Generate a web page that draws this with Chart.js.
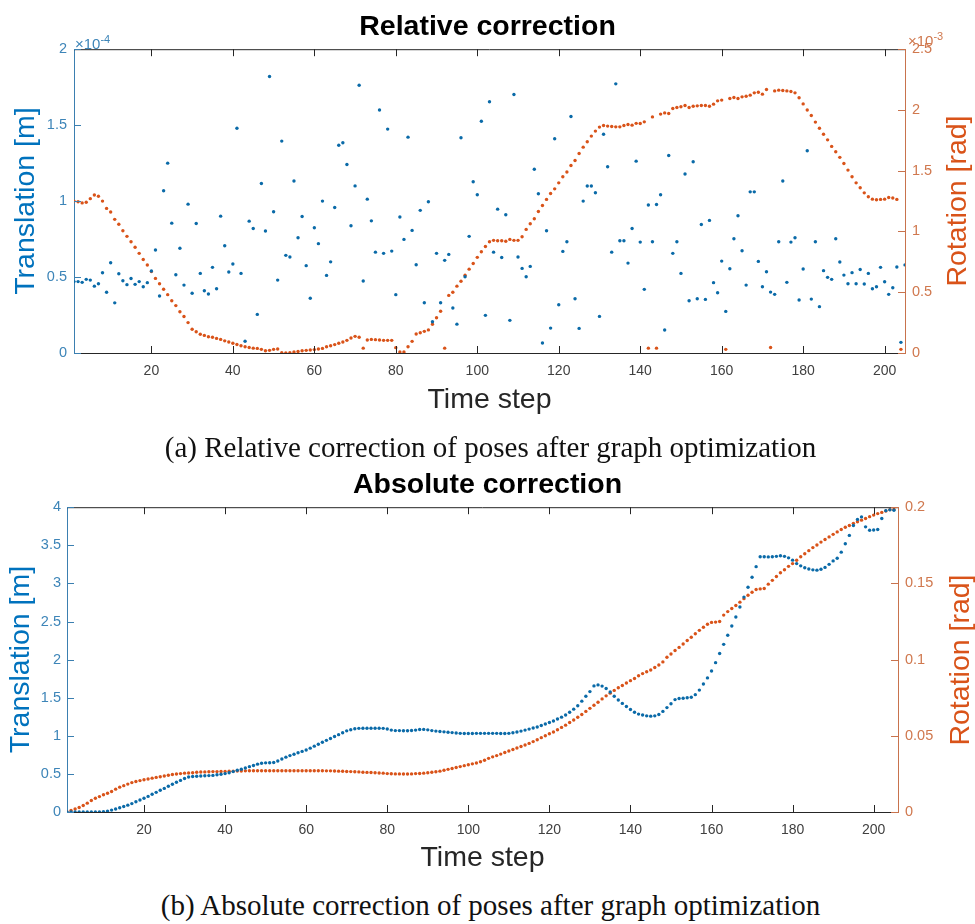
<!DOCTYPE html>
<html>
<head>
<meta charset="utf-8">
<script src="https://cdn.jsdelivr.net/npm/chart.js@4.4.0/dist/chart.umd.min.js"></script>
<style>
    body { margin: 0; background: #fff; width: 975px; height: 924px; position: relative; overflow: hidden; font-family: "Liberation Sans", Arial, sans-serif; }
    canvas { position: absolute; left: 0; }
    #relChart { top: 0; }
    #absChart { top: 460px; }
    .caption { position: absolute; left: 3px; width: 975px; text-align: center; font: 29px/29px "Liberation Serif", "Times New Roman", serif; color: #111; }
    .rotTitle { position: absolute; width: 320px; text-align: center; font-size: 28.5px; line-height: 34px; color: #D95319; transform: rotate(-90deg); }
    .exp { position: absolute; font-size: 15px; line-height: 15px; }
    .exp sup { font-size: 11px; }
</style>
</head>
<body>
<canvas id="relChart" width="975" height="425"></canvas>
<canvas id="absChart" width="975" height="420"></canvas>

<div class="exp" style="left:75px; top:32px; color:#3d85b8;">×10<sup>-4</sup></div>
<div class="exp" style="left:908px; top:29px; color:#d0784e;">×10<sup>-3</sup></div>
<div class="rotTitle" style="left:796px; top:184px;">Rotation [rad]</div>
<div class="rotTitle" style="left:799px; top:643px;">Rotation [rad]</div>
<div class="caption" style="top:433px;">(a) Relative correction of poses after graph optimization</div>
<div class="caption" style="top:891px;">(b) Absolute correction of poses after graph optimization</div>

<script>
// time step ticks shared by both plots
const timeTicks = [20, 40, 60, 80, 100, 120, 140, 160, 180, 200];

// (a) relative correction, translation in 1e-4 m, rotation in 1e-3 rad (steps 1..205)
const relTrans = [
    0.47, 0.47, 0.465, 0.485, 0.48, 0.44, 0.456, 0.528, 0.40, 0.594,
    0.33, 0.522, 0.476, 0.45, 0.49, 0.452, 0.47, 0.436, 0.463, 0.54,
    0.678, 0.375, 1.068, 1.25, 0.855, 0.515, 0.69, 0.447, 0.98, 0.393,
    0.853, 0.524, 0.41, 0.388, 0.564, 0.423, 0.901, 0.706, 0.533, 0.586,
    1.48, 0.524, 0.077, 0.868, 0.82, 0.254, 1.116, 0.803, 1.82, 0.93,
    0.48, 1.395, 0.643, 0.632, 1.132, 0.759, 0.899, 0.575, 0.36, 0.825,
    0.72, 1.0, 0.511, 0.60, 0.958, 1.368, 1.384, 1.241, 0.838, 1.10,
    1.763, 0.474, 1.013, 0.87, 0.664, 1.6, 0.656, 1.474, 0.671, 0.384,
    0.895, 0.748, 1.421, 0.807, 0.581, 0.939, 0.331, 0.996, 0.206, 0.656,
    0.331, 0.61, 0.649, 0.296, 0.19, 1.417, 0.502, 0.768, 1.127, 1.042,
    1.526, 0.248, 1.654, 0.664, 0.947, 0.629, 0.91, 0.215, 1.702, 0.632,
    0.557, 0.502, 0.57, 1.21, 1.048, 0.066, 0.805, 0.164, 1.41, 0.318,
    0.669, 0.732, 1.557, 0.357, 0.162, 1.0, 1.099, 1.099, 1.055, 0.241,
    1.44, 1.226, 0.664, 1.772, 0.739, 0.739, 0.592, 0.82, 1.263, 0.73,
    0.419, 0.974, 0.732, 0.978, 1.042, 0.151, 1.30, 0.656, 0.732, 0.524,
    1.178, 0.344, 1.259, 0.357, 0.846, 0.353, 0.873, 0.463, 0.397, 0.605,
    0.274, 0.555, 0.752, 0.904, 0.673, 0.447, 1.061, 1.061, 0.603, 0.436,
    0.535, 0.401, 0.386, 0.732, 1.132, 0.465, 0.73, 0.759, 0.349, 0.553,
    1.331, 0.355, 0.732, 0.305, 0.542, 0.498, 0.485, 0.752, 0.599, 0.513,
    0.456, 0.529, 0.456, 0.55, 0.454, 0.524, 0.423, 0.436, 0.564, 0.469,
    0.386, 0.43, 0.566, 0.07, 0.58
];
const relRot = [
    1.25, 1.245, 1.235, 1.24, 1.27, 1.30, 1.29, 1.25, 1.19, 1.16,
    1.10, 1.06, 1.006, 0.96, 0.916, 0.87, 0.82, 0.77, 0.724, 0.67,
    0.614, 0.57, 0.524, 0.48, 0.43, 0.39, 0.34, 0.30, 0.25, 0.195,
    0.175, 0.154, 0.145, 0.134, 0.13, 0.12, 0.112, 0.10, 0.09, 0.08,
    0.07, 0.06, 0.052, 0.045, 0.04, 0.038, 0.03, 0.019, 0.022, 0.03,
    0.033, 0.003, 0.0, 0.003, 0.008, 0.013, 0.018, 0.022, 0.025, 0.028,
    0.033, 0.038, 0.052, 0.06, 0.069, 0.08, 0.09, 0.104, 0.123, 0.137,
    0.129, 0.04, 0.107, 0.112, 0.11, 0.107, 0.104, 0.104, 0.104, 0.044,
    0.008, 0.008, 0.052, 0.096, 0.156, 0.167, 0.178, 0.19, 0.236, 0.29,
    0.343, 0.04, 0.474, 0.50, 0.55, 0.59, 0.64, 0.69, 0.737, 0.787,
    0.833, 0.877, 0.916, 0.927, 0.924, 0.924, 0.92, 0.935, 0.927, 0.927,
    0.957, 1.017, 1.064, 1.105, 1.165, 1.214, 1.264, 1.313, 1.351, 1.40,
    1.45, 1.49, 1.543, 1.584, 1.642, 1.694, 1.738, 1.785, 1.826, 1.859,
    1.872, 1.867, 1.864, 1.861, 1.861, 1.872, 1.88, 1.875, 1.89, 1.889,
    1.902, 0.04, 1.943, 0.04, 1.966, 1.976, 1.971, 2.012, 2.02, 2.026,
    2.037, 2.02, 2.031, 2.034, 2.037, 2.037, 2.031, 2.048, 2.075, 2.081,
    0.03, 2.094, 2.103, 2.094, 2.108, 2.113, 2.122, 2.141, 2.146, 2.13,
    2.168, 0.045, 2.157, 2.163, 2.16, 2.157, 2.152, 2.141, 2.1, 2.05,
    2.0, 1.954, 1.9, 1.85, 1.80, 1.754, 1.70, 1.656, 1.61, 1.56,
    1.505, 1.45, 1.40, 1.36, 1.318, 1.286, 1.266, 1.261, 1.264, 1.266,
    1.28, 1.275, 1.264, 0.03, null
];

// (b) absolute correction, translation in m, rotation in rad (steps 1..205)
const absTrans = [
    0, 0, 0, 0, 0, 0, 0, 0, 0, 0.005,
    0.012, 0.025, 0.04, 0.055, 0.072, 0.09, 0.11, 0.135, 0.158, 0.18,
    0.205, 0.232, 0.258, 0.285, 0.31, 0.338, 0.365, 0.39, 0.415, 0.44,
    0.46, 0.465, 0.47, 0.472, 0.475, 0.478, 0.48, 0.488, 0.496, 0.504,
    0.515, 0.53, 0.548, 0.562, 0.578, 0.595, 0.61, 0.628, 0.64, 0.645,
    0.647, 0.65, 0.67, 0.695, 0.72, 0.74, 0.758, 0.777, 0.795, 0.813,
    0.838, 0.864, 0.89, 0.915, 0.94, 0.965, 0.99, 1.015, 1.04, 1.065,
    1.08, 1.093, 1.098, 1.1, 1.1, 1.1, 1.1, 1.1, 1.098, 1.09,
    1.075, 1.068, 1.068, 1.067, 1.067, 1.07, 1.075, 1.082, 1.084, 1.078,
    1.068, 1.062, 1.056, 1.052, 1.047, 1.042, 1.036, 1.032, 1.03, 1.03,
    1.03, 1.032, 1.032, 1.032, 1.032, 1.032, 1.032, 1.03, 1.03, 1.032,
    1.04, 1.05, 1.062, 1.075, 1.088, 1.103, 1.115, 1.135, 1.155, 1.175,
    1.195, 1.22, 1.245, 1.272, 1.31, 1.35, 1.395, 1.455, 1.52, 1.58,
    1.655, 1.668, 1.652, 1.62, 1.575, 1.52, 1.47, 1.425, 1.385, 1.345,
    1.31, 1.285, 1.272, 1.262, 1.258, 1.262, 1.28, 1.32, 1.37, 1.42,
    1.475, 1.49, 1.492, 1.5, 1.505, 1.54, 1.6, 1.68, 1.76, 1.85,
    1.96, 2.08, 2.2, 2.32, 2.44, 2.56, 2.69, 2.82, 2.95, 3.08,
    3.22, 3.35, 3.35, 3.348, 3.35, 3.355, 3.362, 3.355, 3.335, 3.305,
    3.26, 3.23, 3.205, 3.188, 3.178, 3.174, 3.185, 3.21, 3.25, 3.295,
    3.33, 3.41, 3.52, 3.63, 3.76, 3.84, 3.873, 3.742, 3.698, 3.7,
    3.707, 3.851, 3.955, 3.965, 3.96
];
const absRot = [
    0, 0.001, 0.002, 0.003, 0.0043, 0.0058, 0.0075, 0.009, 0.0101, 0.0113,
    0.0123, 0.0135, 0.015, 0.0163, 0.0173, 0.0183, 0.0193, 0.02, 0.0206, 0.0212,
    0.0217, 0.0222, 0.0227, 0.0231, 0.0236, 0.0241, 0.0246, 0.0249, 0.0252, 0.0255,
    0.0256, 0.0258, 0.0261, 0.0262, 0.0263, 0.0264, 0.0265, 0.0265, 0.0266, 0.0266,
    0.0267, 0.0268, 0.0269, 0.0269, 0.027, 0.0271, 0.0271, 0.0271, 0.0271, 0.0271,
    0.0271, 0.0271, 0.0271, 0.0271, 0.0271, 0.0271, 0.0271, 0.0271, 0.0271, 0.0271,
    0.0271, 0.0271, 0.0271, 0.0271, 0.027, 0.027, 0.0269, 0.0268, 0.0267, 0.0266,
    0.0265, 0.0264, 0.0263, 0.0261, 0.026, 0.0259, 0.0258, 0.0256, 0.0255, 0.0252,
    0.0251, 0.025, 0.025, 0.0249, 0.0249, 0.025, 0.0252, 0.0253, 0.0255, 0.0258,
    0.0261, 0.0264, 0.0268, 0.0274, 0.028, 0.0285, 0.0292, 0.0298, 0.0304, 0.031,
    0.0316, 0.0322, 0.033, 0.034, 0.0352, 0.0362, 0.037, 0.038, 0.039, 0.04,
    0.041, 0.042, 0.043, 0.044, 0.045, 0.0462, 0.0474, 0.0488, 0.05, 0.0513,
    0.0525, 0.054, 0.0555, 0.057, 0.0587, 0.0604, 0.0622, 0.064, 0.066, 0.068,
    0.07, 0.072, 0.0742, 0.0762, 0.078, 0.0798, 0.0815, 0.083, 0.0846, 0.0862,
    0.0876, 0.0894, 0.0908, 0.092, 0.0932, 0.0948, 0.0965, 0.0985, 0.1015, 0.1037,
    0.106, 0.108, 0.1102, 0.1125, 0.1147, 0.117, 0.1192, 0.1212, 0.1232, 0.1244,
    0.1246, 0.125, 0.1292, 0.1315, 0.1335, 0.1355, 0.1377, 0.14, 0.1422, 0.1442,
    0.146, 0.1464, 0.1467, 0.1495, 0.152, 0.1545, 0.157, 0.159, 0.1612, 0.163,
    0.1652, 0.1675, 0.1695, 0.1715, 0.1735, 0.1752, 0.1771, 0.1788, 0.1805, 0.1822,
    0.1838, 0.1854, 0.1868, 0.188, 0.1894, 0.1905, 0.1915, 0.1926, 0.1938, 0.1948,
    0.1958, 0.1966, 0.1975, 0.1984, 0.1985
];

const BLUE = '#0a6aa8';
const ORANGE = '#D95319';
const AXIS_GRAY = '#262626';
const LEFT_AXIS = '#3b7fb0';
const RIGHT_AXIS = '#c8734d';
const FONT = '"Liberation Sans", Arial, sans-serif';

// matlab style ticks pointing into the plot, plus the top box line
const innerTicks = {
    id: 'innerTicks',
    afterDraw(chart) {
        const { ctx, chartArea: area, scales } = chart;
        const len = 7;
        ctx.save();
        ctx.lineWidth = 1;

        ctx.strokeStyle = AXIS_GRAY;
        ctx.beginPath();
        ctx.moveTo(area.left, area.top + 0.5);
        ctx.lineTo(area.right, area.top + 0.5);
        scales.x.ticks.forEach(tick => {
            const px = Math.round(scales.x.getPixelForValue(tick.value)) + 0.5;
            ctx.moveTo(px, area.bottom);
            ctx.lineTo(px, area.bottom - len);
            ctx.moveTo(px, area.top);
            ctx.lineTo(px, area.top + len);
        });
        ctx.stroke();

        [['y', 1, LEFT_AXIS, area.left], ['y1', -1, RIGHT_AXIS, area.right]].forEach(([id, dir, color, edge]) => {
            const scale = scales[id];
            ctx.strokeStyle = color;
            ctx.beginPath();
            scale.ticks.forEach(tick => {
                const py = Math.round(scale.getPixelForValue(tick.value)) + 0.5;
                ctx.moveTo(edge, py);
                ctx.lineTo(edge + dir * len, py);
            });
            ctx.stroke();
        });
        ctx.restore();
    }
};

const tickText = v => String(+v.toFixed(3));
const toPoints = arr => arr.map((v, i) => ({ x: i + 1, y: v }));

function buildChart(id, o) {
    return new Chart(document.getElementById(id), {
        type: 'scatter',
        data: {
            datasets: [
                {
                    data: toPoints(o.trans),
                    yAxisID: 'y',
                    backgroundColor: BLUE,
                    pointRadius: 1.7,
                    pointBorderWidth: 0
                },
                {
                    data: toPoints(o.rot),
                    yAxisID: 'y1',
                    backgroundColor: ORANGE,
                    pointRadius: 1.7,
                    pointBorderWidth: 0
                }
            ]
        },
        options: {
            responsive: false,
            animation: false,
            devicePixelRatio: 1,
            layout: { padding: 0 },
            plugins: {
                legend: { display: false },
                tooltip: { enabled: false },
                title: {
                    display: true,
                    text: o.title,
                    color: '#000',
                    font: { family: FONT, size: 28.5, weight: 'bold' },
                    padding: { top: o.titleTop, bottom: o.titleBottom }
                }
            },
            scales: {
                x: {
                    type: 'linear',
                    min: 1,
                    max: o.xMax,
                    afterBuildTicks: scale => { scale.ticks = timeTicks.map(v => ({ value: v })); },
                    afterFit: scale => { scale.height = o.xHeight; },
                    grid: { display: false, drawTicks: false },
                    border: { color: AXIS_GRAY, width: 1 },
                    ticks: { color: '#404040', font: { family: FONT, size: 14 }, padding: 10, maxRotation: 0 },
                    title: {
                        display: true,
                        text: 'Time step',
                        color: AXIS_GRAY,
                        font: { family: FONT, size: 28.5 },
                        padding: { top: 0, bottom: o.xTitlePad }
                    }
                },
                y: {
                    position: 'left',
                    min: 0,
                    max: o.transMax,
                    afterFit: scale => { scale.width = o.leftW; },
                    grid: { display: false, drawTicks: false },
                    border: { color: LEFT_AXIS, width: 1 },
                    ticks: { stepSize: 0.5, color: '#3d85b8', font: { family: FONT, size: 14.5 }, padding: o.leftPad, callback: tickText },
                    title: {
                        display: true,
                        text: 'Translation [m]',
                        color: '#0072BD',
                        font: { family: FONT, size: 28.5 },
                        padding: { top: o.yTitlePad, bottom: 0 }
                    }
                },
                y1: {
                    position: 'right',
                    min: 0,
                    max: o.rotMax,
                    afterFit: scale => { scale.width = o.rightW; },
                    grid: { display: false, drawTicks: false },
                    border: { color: RIGHT_AXIS, width: 1 },
                    ticks: { stepSize: o.rotStep, color: '#d0784e', font: { family: FONT, size: 14.5 }, padding: 7, callback: tickText }
                }
            }
        },
        plugins: [innerTicks]
    });
}

buildChart('relChart', {
    title: 'Relative correction',
    trans: relTrans,
    rot: relRot,
    titleTop: 10,
    titleBottom: 5,
    xMax: 205,
    xHeight: 72,
    xTitlePad: 8,
    transMax: 2,
    rotMax: 2.5,
    rotStep: 0.5,
    leftW: 74,
    rightW: 70,
    leftPad: 7,
    yTitlePad: 9
});

buildChart('absChart', {
    title: 'Absolute correction',
    trans: absTrans,
    rot: absRot,
    titleTop: 8,
    titleBottom: 5,
    xMax: 206,
    xHeight: 68,
    xTitlePad: 5,
    transMax: 4,
    rotMax: 0.2,
    rotStep: 0.05,
    leftW: 67,
    rightW: 77,
    leftPad: 6,
    yTitlePad: 4
});
</script>
</body>
</html>
